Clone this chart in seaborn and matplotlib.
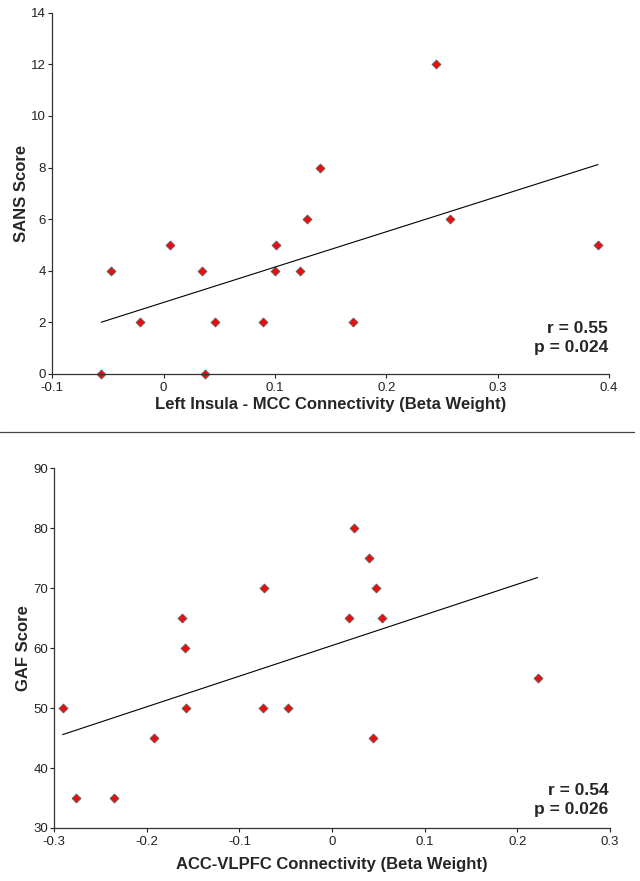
import seaborn as sb
import pandas as pd
import matplotlib.pyplot as plt
from matplotlib.lines import Line2D

# top panel: left insula - MCC connectivity vs SANS
insula_mcc = [-0.056, -0.047, -0.021, 0.006, 0.034, 0.037, 0.046, 0.089, 0.100,
              0.101, 0.122, 0.129, 0.140, 0.170, 0.245, 0.257, 0.390]
sans_score = [0, 4, 2, 5, 4, 0, 2, 2, 4, 5, 4, 6, 8, 2, 12, 6, 5]

# bottom panel: ACC-VLPFC connectivity vs GAF
acc_vlpfc = [-0.291, -0.277, -0.236, -0.192, -0.162, -0.159, -0.158, -0.075, -0.073,
             -0.048, 0.018, 0.024, 0.040, 0.044, 0.048, 0.054, 0.222]
gaf_score = [50, 35, 35, 45, 65, 60, 50, 50, 70, 50, 65, 80, 75, 45, 70, 65, 55]

sb.set_style("ticks")
plt.rcParams['font.family'] = ['Liberation Sans', 'DejaVu Sans']

fig = plt.figure(figsize=(6.4, 8.81), dpi=100)
ax1 = fig.add_axes([0.0817, 0.5755, 0.870, 0.4101])
ax2 = fig.add_axes([0.0848, 0.0602, 0.868, 0.4083])

scatter_kws = dict(s=20, color="#f00a0a", edgecolor="#6a5a5a", linewidths=0.7, alpha=1)
line_kws = dict(color="black", lw=0.8)


def panel(ax, x, y, xlabel, ylabel, xlim, ylim, xticks, yticks, r_text, p_text, ry, py, xl_y):
    df = pd.DataFrame({"x": x, "y": y})
    sb.regplot(data=df, x="x", y="y", ax=ax, ci=None, marker="D",
               scatter_kws=scatter_kws, line_kws=line_kws)
    ax.set_xlim(xlim)
    ax.set_ylim(ylim)
    ax.set_xticks(xticks)
    ax.set_xticklabels(["0" if abs(t) < 1e-9 else ("%g" % t) for t in xticks])
    ax.set_yticks(yticks)
    ax.tick_params(labelsize=9.5, length=3, width=0.8, colors="#222222")
    ax.tick_params(axis="x", pad=3)
    ax.tick_params(axis="y", pad=1.5)
    for s in ["left", "bottom"]:
        ax.spines[s].set_linewidth(0.9)
        ax.spines[s].set_color("#333333")
    sb.despine(ax=ax)
    ax.set_xlabel(xlabel, fontsize=12, fontweight="bold")
    ax.set_ylabel(ylabel, fontsize=12, fontweight="bold")
    ax.xaxis.set_label_coords(0.5, xl_y)
    ax.yaxis.set_label_coords(-0.042, 0.5)
    for c in ax.collections:
        c.set_clip_on(False)
    ax.text(0.998, ry, r_text, transform=ax.transAxes, ha="right", va="center",
            fontsize=12.5, fontweight="bold")
    ax.text(0.998, py, p_text, transform=ax.transAxes, ha="right", va="center",
            fontsize=12.5, fontweight="bold")


panel(ax1, insula_mcc, sans_score, "Left Insula - MCC Connectivity (Beta Weight)", "SANS Score",
      (-0.1, 0.4), (0, 14), [-0.1, 0, 0.1, 0.2, 0.3, 0.4], [0, 2, 4, 6, 8, 10, 12, 14],
      "r = 0.55", "p = 0.024", 0.125, 0.072, -0.064)
panel(ax2, acc_vlpfc, gaf_score, "ACC-VLPFC Connectivity (Beta Weight)", "GAF Score",
      (-0.3, 0.3), (30, 90), [-0.3, -0.2, -0.1, 0, 0.1, 0.2, 0.3], [30, 40, 50, 60, 70, 80, 90],
      "r = 0.54", "p = 0.026", 0.103, 0.05, -0.08)

# separator between the two panels
fig.add_artist(Line2D([0.0, 0.99], [1 - 432 / 881, 1 - 432 / 881], color="#444444", lw=0.9))

plt.savefig("out.png", dpi=100)
